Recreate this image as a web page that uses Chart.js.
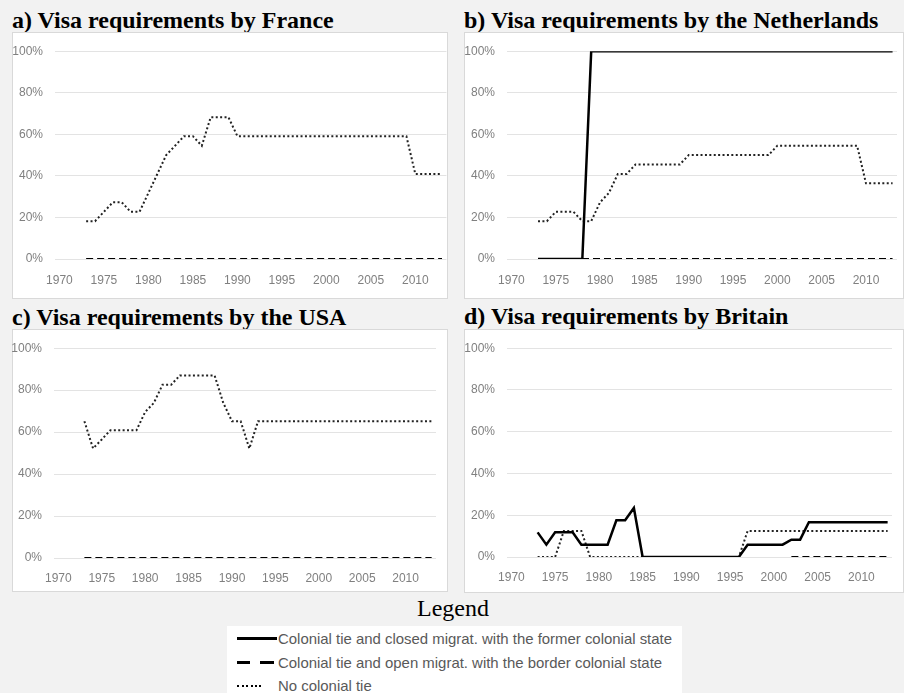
<!DOCTYPE html>
<html>
<head>
<meta charset="utf-8">
<script src="https://cdn.jsdelivr.net/npm/chart.js@4.4.0/dist/chart.umd.min.js"></script>
<style>
  body { margin: 0; background: #f2f2f2; width: 904px; height: 693px; overflow: hidden; position: relative; }
  .title { position: absolute; font: bold 24px "Liberation Serif", serif; line-height: 24px; color: #000; white-space: nowrap; }
  .box { position: absolute; background: #fff; border: 1px solid #d9d9d9; box-sizing: border-box; }
  canvas { position: absolute; }
  #legendTitle { position: absolute; left: 0; width: 906px; top: 596px; text-align: center; font: 24px "Liberation Serif", serif; line-height: 24px; }
  #legendBox { position: absolute; left: 227px; top: 626px; width: 455px; height: 80px; background: #fff; }
  .row { position: absolute; left: 278px; font: 15px "Liberation Sans", sans-serif; line-height: 17px; color: #595959; white-space: nowrap; transform-origin: 0 0; }
  .smp { position: absolute; height: 3px; background: #000; }
</style>
</head>
<body>
<script>
// years on the x axis, data starts in 1973
const years = [];
for (let y = 1970; y <= 2013; y++) years.push(y);
const lead = [null, null, null]; // 1970-1972 empty

const seriesLabels = [
  'Colonial tie and closed migrat. with the former colonial state',
  'Colonial tie and open migrat. with the border colonial state',
  'No colonial tie'
];
const yTicks = [0, 20, 40, 60, 80, 100];

// values 1973-2013, in percent
const franceOpen = Array(41).fill(0);
const franceNone = [18.2, 18.2, 22.7, 27.3, 27.3, 22.7, 22.7, 31.8, 40.9, 50, 54.5, 59.1, 59.1, 54.5, 68.2, 68.2, 68.2, 59.1,
  59.1, 59.1, 59.1, 59.1, 59.1, 59.1, 59.1, 59.1, 59.1, 59.1, 59.1, 59.1, 59.1, 59.1, 59.1, 59.1, 59.1, 59.1, 59.1,
  40.9, 40.9, 40.9, 40.9];

const nlClosed = [0, 0, 0, 0, 0, 0, 100, 100, 100, 100, 100, 100, 100, 100, 100, 100, 100, 100, 100, 100, 100, 100,
  100, 100, 100, 100, 100, 100, 100, 100, 100, 100, 100, 100, 100, 100, 100, 100, 100, 100, 100];
const nlOpen = Array(41).fill(0);
const nlNone = [18.2, 18.2, 22.7, 22.7, 22.7, 18.2, 18.2, 27.3, 31.8, 40.9, 40.9, 45.5, 45.5, 45.5, 45.5, 45.5, 45.5,
  50, 50, 50, 50, 50, 50, 50, 50, 50, 50, 54.5, 54.5, 54.5, 54.5, 54.5, 54.5, 54.5, 54.5, 54.5, 54.5,
  36.4, 36.4, 36.4, 36.4];

const usaOpen = Array(41).fill(0);
const usaNone = [65.2, 52.2, 56.5, 60.9, 60.9, 60.9, 60.9, 69.6, 73.9, 82.6, 82.6, 87, 87, 87, 87, 87, 73.9, 65.2, 65.2, 52.2,
  65.2, 65.2, 65.2, 65.2, 65.2, 65.2, 65.2, 65.2, 65.2, 65.2, 65.2, 65.2, 65.2, 65.2, 65.2, 65.2, 65.2, 65.2, 65.2, 65.2, 65.2];

const ukClosed = [11.8, 5.9, 11.8, 11.8, 11.8, 5.9, 5.9, 5.9, 5.9, 17.6, 17.6, 23.5, 0, 0, 0, 0, 0, 0, 0, 0, 0, 0, 0, 0,
  5.9, 5.9, 5.9, 5.9, 5.9, 8.3, 8.3, 16.7, 16.7, 16.7, 16.7, 16.7, 16.7, 16.7, 16.7, 16.7, 16.7];
const ukOpen = Array(29).fill(null).concat(Array(12).fill(0));
const ukNone = [0, 0, 0, 12.5, 12.5, 12.5, 0, 0, 0, 0, 0, 0, 0, 0, 0, 0, 0, 0, 0, 0, 0, 0, 0, 0,
  12.5, 12.5, 12.5, 12.5, 12.5, 12.5, 12.5, 12.5, 12.5, 12.5, 12.5, 12.5, 12.5, 12.5, 12.5, 12.5, 12.5];

// line styles per series kind
const styles = {
  closed: { borderColor: '#000', borderWidth: 2.5, borderDash: [] },
  open: { borderColor: '#000', borderWidth: 2, borderDash: [7, 4] },
  none: { borderColor: '#222', borderWidth: 2, borderDash: [2, 2.4] }
};

// panel boxes and plot areas (page px)
const panels = [
  { title: 'a) Visa requirements by France', titleTop: 8, box: [12, 32, 436, 267], area: [55, 46, 448, 259], lblPad: 6,
    series: [['open', franceOpen], ['none', franceNone]] },
  { title: 'b) Visa requirements by the Netherlands', titleTop: 8, box: [464, 32, 440, 267], area: [507, 46, 897, 259], lblPad: 6,
    series: [['closed', nlClosed], ['open', nlOpen], ['none', nlNone]] },
  { title: 'c) Visa requirements by the USA', titleTop: 305, box: [12, 329, 436, 263], area: [54, 343, 436, 558], lblPad: 5,
    series: [['open', usaOpen], ['none', usaNone]] },
  { title: 'd) Visa requirements by Britain', titleTop: 304, box: [464, 329, 440, 264], area: [507, 343, 892, 557], lblPad: 5,
    series: [['closed', ukClosed], ['open', ukOpen], ['none', ukNone]] }
];

Chart.defaults.font.family = '"Liberation Sans", sans-serif';
Chart.defaults.font.size = 12;
Chart.defaults.color = '#808080';

panels.forEach(p => {
  const [bx, by, bw, bh] = p.box;
  const [al, at, ar, ab] = p.area;

  const t = document.createElement('div');
  t.className = 'title';
  t.style.left = bx + 'px';
  t.style.top = p.titleTop + 'px';
  t.textContent = p.title;
  document.body.appendChild(t);

  const b = document.createElement('div');
  b.className = 'box';
  Object.assign(b.style, { left: bx + 'px', top: by + 'px', width: bw + 'px', height: bh + 'px' });
  document.body.appendChild(b);

  const c = document.createElement('canvas');
  c.width = bw; c.height = bh;
  Object.assign(c.style, { left: bx + 'px', top: by + 'px' });
  document.body.appendChild(c);

  new Chart(c, {
    type: 'line',
    data: {
      labels: years,
      datasets: p.series.map(([kind, vals]) => Object.assign({
        label: seriesLabels[['closed', 'open', 'none'].indexOf(kind)],
        data: lead.concat(vals),
        pointRadius: 0,
        tension: 0,
        fill: false,
        spanGaps: false
      }, styles[kind]))
    },
    options: {
      responsive: false,
      animation: false,
      devicePixelRatio: 1,
      layout: { padding: { left: 0, top: at - by, right: bx + bw - ar, bottom: 0 } },
      plugins: { legend: { display: false }, tooltip: { enabled: false } },
      scales: {
        x: {
          type: 'category',
          offset: true,
          grid: { display: false },
          border: { display: false },
          ticks: {
            autoSkip: false, maxRotation: 0, minRotation: 0, padding: p.lblPad,
            callback: function (v) { const y = years[v]; return y % 5 === 0 ? String(y) : ''; }
          },
          afterFit: s => { s.height = by + bh - ab; }
        },
        y: {
          min: 0, max: 100,
          grid: { color: '#e3e3e3', lineWidth: 1, drawTicks: false },
          border: { display: false },
          afterBuildTicks: s => { s.ticks = yTicks.map(v => ({ value: v })); },
          ticks: { padding: 12, callback: v => v + '%' },
          afterFit: s => { s.width = al - bx; }
        }
      }
    }
  });
});
</script>

<div id="legendTitle">Legend</div>
<div id="legendBox"></div>
<div class="smp" style="left:237px; top:637px; width:40px;"></div>
<div class="smp" style="left:237px; top:661px; width:13px;"></div>
<div class="smp" style="left:260px; top:661px; width:14px;"></div>
<div class="smp" style="left:237px; top:685px; width:27px; height:2px; background: repeating-linear-gradient(to right, #000 0 2px, transparent 2px 4.5px);"></div>
<div class="row" id="r0" style="top:630px;"></div>
<div class="row" id="r1" style="top:654px;"></div>
<div class="row" id="r2" style="top:677px;"></div>
<script>
  const rows = [document.getElementById('r0'), document.getElementById('r1'), document.getElementById('r2')];
  rows.forEach((r, i) => { r.textContent = seriesLabels[i]; });
  const k = 394 / rows[0].getBoundingClientRect().width;
  rows.forEach(r => { r.style.transform = 'scaleX(' + k + ')'; });
</script>
</body>
</html>
